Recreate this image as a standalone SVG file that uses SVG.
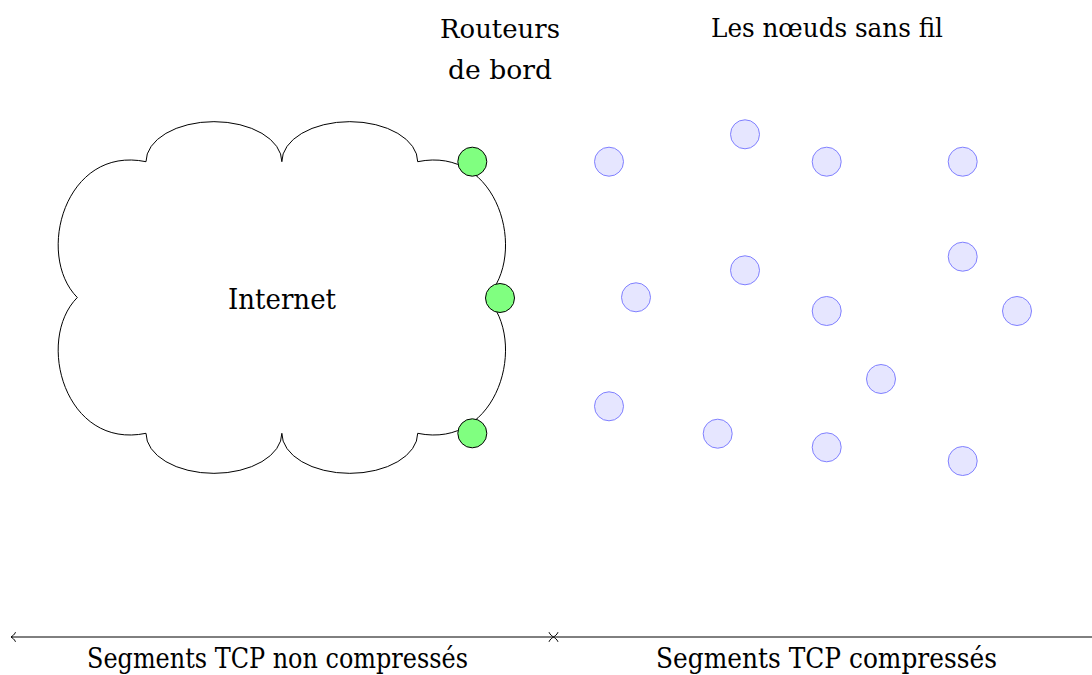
<svg xmlns="http://www.w3.org/2000/svg" width="1092" height="675" viewBox="0 0 1092 675">
<style>
  text { font-family: "DejaVu Serif", "Liberation Serif", serif; fill: #000; text-anchor: middle; }
  .router { fill: #80ff80; stroke: #000; stroke-width: 1; }
  .node { fill: #e6e6ff; stroke: #8080ff; stroke-width: 1; }
  .cloud { fill: #fff; stroke: #000; stroke-width: 1; }
  .conn { stroke: #000; stroke-width: 1; fill: none; }
</style>
<defs>
  <marker id="tip" markerUnits="userSpaceOnUse" markerWidth="14" markerHeight="14" refX="0" refY="0" viewBox="-7 -7 14 14" orient="auto-start-reverse" overflow="visible">
    <path d="M -4.5 -4.8 C -3.5 -2.2, -1.2 -0.8, 0 0 C -1.2 0.8, -3.5 2.2, -4.5 4.8" fill="none" stroke="#000" stroke-width="1"/>
  </marker>
</defs>
<rect width="1092" height="675" fill="#fff"/>

<g id="internet">
  <path class="cloud" d="M 146 161.7 A 67.85 40 0 0 1 281.85 161.7 A 67.85 40 0 0 1 417.7 161.7 C 498.7 145, 528.7 255, 486.4 297.5 C 528.7 340, 498.7 450, 417.7 433.3 A 67.85 40 0 0 1 281.85 433.3 A 67.85 40 0 0 1 146 433.3 C 65 450, 35 340, 77.3 297.5 C 35 255, 65 145, 146 161.7 Z"/>
  <text x="282" y="309" font-size="28" textLength="108" lengthAdjust="spacingAndGlyphs">Internet</text>
</g>

<g id="routeurs-label">
  <text x="500" y="38" font-size="26" textLength="120" lengthAdjust="spacingAndGlyphs">Routeurs</text>
  <text x="500" y="79" font-size="26" textLength="104" lengthAdjust="spacingAndGlyphs">de bord</text>
</g>
<g id="noeuds-label">
  <text x="827" y="37" font-size="26" textLength="232" lengthAdjust="spacingAndGlyphs">Les nœuds sans fil</text>
</g>

<g id="router1"><circle class="router" cx="472.3" cy="161.7" r="14.5"/></g>
<g id="router2"><circle class="router" cx="500" cy="298" r="14.5"/></g>
<g id="router3"><circle class="router" cx="472.3" cy="433.3" r="14.5"/></g>

<g id="n1"><circle class="node" cx="609" cy="161.7" r="14.5"/></g>
<g id="n2"><circle class="node" cx="745" cy="134.3" r="14.5"/></g>
<g id="n3"><circle class="node" cx="826.7" cy="161.7" r="14.5"/></g>
<g id="n4"><circle class="node" cx="962.7" cy="161.7" r="14.5"/></g>
<g id="n5"><circle class="node" cx="962.7" cy="256.7" r="14.5"/></g>
<g id="n6"><circle class="node" cx="745" cy="270.3" r="14.5"/></g>
<g id="n7"><circle class="node" cx="636" cy="297.3" r="14.5"/></g>
<g id="n8"><circle class="node" cx="826.7" cy="311" r="14.5"/></g>
<g id="n9"><circle class="node" cx="1017" cy="311" r="14.5"/></g>
<g id="n10"><circle class="node" cx="881" cy="379" r="14.5"/></g>
<g id="n11"><circle class="node" cx="609" cy="406.3" r="14.5"/></g>
<g id="n12"><circle class="node" cx="717.7" cy="433.7" r="14.5"/></g>
<g id="n13"><circle class="node" cx="826.7" cy="447.3" r="14.5"/></g>
<g id="n14"><circle class="node" cx="962.7" cy="461" r="14.5"/></g>

<g id="connectors">
  <line class="conn" x1="11" y1="637" x2="553.5" y2="637" marker-start="url(#tip)" marker-end="url(#tip)"/>
  <line class="conn" x1="553.5" y1="637" x2="1096" y2="637" marker-start="url(#tip)"/>
</g>

<g id="segment-labels">
  <text x="277.5" y="668" font-size="27" textLength="381" lengthAdjust="spacingAndGlyphs">Segments TCP non compressés</text>
  <text x="826.5" y="668" font-size="27" textLength="341" lengthAdjust="spacingAndGlyphs">Segments TCP compressés</text>
</g>
</svg>
